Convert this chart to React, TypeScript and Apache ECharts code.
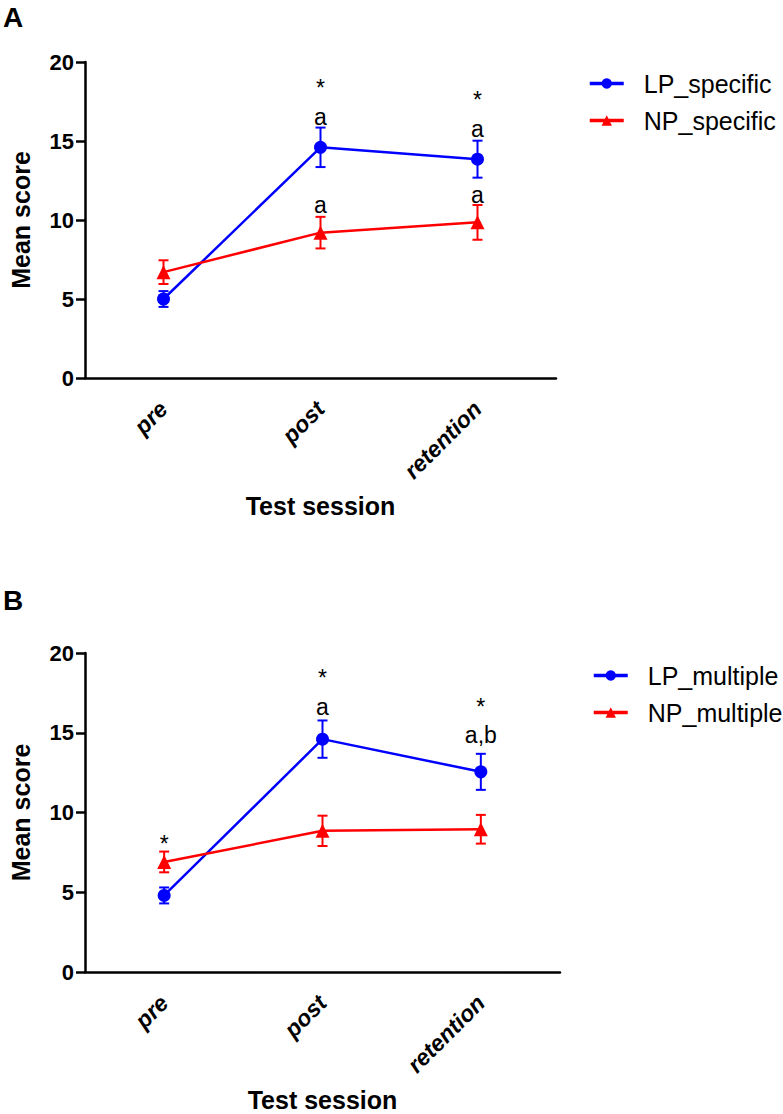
import React, { useEffect, useRef } from 'react';
import * as echarts from 'echarts';

const categories = ['pre', 'post', 'retention'];
const yTicks = { min: 0, max: 20, interval: 5 };

// Panel A
const lpSpecificMean = [5.0, 14.6, 13.85];
const lpSpecificErr = [0.5, 1.25, 1.17];
const npSpecificMean = [6.7, 9.2, 9.85];
const npSpecificErr = [0.75, 1.0, 1.1];
const annotA = [
  { cat: 1, y: 18.35, text: '*' },
  { cat: 1, y: 16.54, text: 'a' },
  { cat: 1, y: 10.95, text: 'a' },
  { cat: 2, y: 17.57, text: '*' },
  { cat: 2, y: 15.76, text: 'a' },
  { cat: 2, y: 11.58, text: 'a' },
];

// Panel B
const lpMultipleMean = [4.8, 14.6, 12.55];
const lpMultipleErr = [0.5, 1.17, 1.13];
const npMultipleMean = [6.9, 8.85, 8.95];
const npMultipleErr = [0.65, 0.95, 0.9];
const annotB = [
  { cat: 0, y: 8.0, text: '*' },
  { cat: 1, y: 18.45, text: '*' },
  { cat: 1, y: 16.61, text: 'a' },
  { cat: 2, y: 16.63, text: '*' },
  { cat: 2, y: 14.84, text: 'a,b' },
];

const FONT = 'Liberation Sans, Arial, sans-serif';
const BLUE = '#0000ff';
const RED = '#ff0000';

function errorSeries(name: string, means: number[], errs: number[], color: string, ai: number) {
  return {
    type: 'custom',
    name: name + '_err',
    xAxisIndex: ai,
    yAxisIndex: ai,
    z: 2,
    silent: true,
    encode: { x: 0, y: [1, 2] },
    data: means.map((m, i) => [i, m - errs[i], m + errs[i]]),
    renderItem: (params: any, api: any) => {
      const lo = api.coord([api.value(0), api.value(1)]);
      const hi = api.coord([api.value(0), api.value(2)]);
      const w = 5;
      const style = { stroke: color, lineWidth: 2 };
      return {
        type: 'group',
        children: [
          { type: 'line', shape: { x1: lo[0], y1: lo[1], x2: hi[0], y2: hi[1] }, style },
          { type: 'line', shape: { x1: lo[0] - w, y1: lo[1], x2: lo[0] + w, y2: lo[1] }, style },
          { type: 'line', shape: { x1: hi[0] - w, y1: hi[1], x2: hi[0] + w, y2: hi[1] }, style },
        ],
      };
    },
  };
}

function lineSeries(name: string, means: number[], color: string, symbol: string, ai: number) {
  return {
    type: 'line',
    name,
    xAxisIndex: ai,
    yAxisIndex: ai,
    z: 5,
    data: means,
    symbol,
    symbolSize: symbol === 'circle' ? 13 : 14,
    lineStyle: { color, width: 2.5 },
    itemStyle: { color },
  };
}

function annotSeries(list: { cat: number; y: number; text: string }[], ai: number) {
  return {
    type: 'scatter',
    name: 'annot' + ai,
    xAxisIndex: ai,
    yAxisIndex: ai,
    z: 6,
    silent: true,
    symbolSize: 1,
    itemStyle: { color: 'rgba(0,0,0,0)', opacity: 1 },
    data: list.map((a) => ({
      value: [a.cat, a.y],
      label: {
        show: true,
        position: 'inside',
        formatter: a.text,
        color: '#000',
        opacity: 1,
        fontSize: 23,
        fontFamily: FONT,
      },
    })),
  };
}

function xAxis(ai: number) {
  return {
    type: 'category',
    gridIndex: ai,
    data: categories,
    boundaryGap: true,
    axisLine: { lineStyle: { color: '#000', width: 2.5 } },
    axisTick: { alignWithLabel: true, length: 9, lineStyle: { color: '#000', width: 2.5 } },
    axisLabel: {
      rotate: 45,
      margin: 27,
      color: '#000',
      fontSize: 23,
      fontWeight: 'bold',
      fontStyle: 'italic',
      fontFamily: FONT,
    },
    name: 'Test session',
    nameLocation: 'middle',
    nameGap: 115,
    nameTextStyle: { color: '#000', fontSize: 25, fontWeight: 'bold', fontFamily: FONT },
  };
}

function yAxis(ai: number) {
  return {
    type: 'value',
    gridIndex: ai,
    min: yTicks.min,
    max: yTicks.max,
    interval: yTicks.interval,
    splitLine: { show: false },
    axisLine: { show: true, lineStyle: { color: '#000', width: 2.5 } },
    axisTick: { show: true, length: 9, lineStyle: { color: '#000', width: 2.5 } },
    axisLabel: { margin: 11, color: '#000', fontSize: 22, fontWeight: 'bold', fontFamily: FONT },
    name: 'Mean score',
    nameLocation: 'middle',
    nameGap: 52,
    nameTextStyle: { color: '#000', fontSize: 25, fontWeight: 'bold', fontFamily: FONT },
  };
}

function legend(names: string[], left: number, top: number) {
  return {
    data: names,
    orient: 'vertical',
    left,
    top,
    itemWidth: 34,
    itemHeight: 13,
    itemGap: 12,
    selectedMode: false,
    lineStyle: { width: 3.5 },
    textStyle: { color: '#000', fontSize: 25, fontFamily: FONT, padding: [0, 0, 0, 15] },
  };
}

export default function App() {
  const ref = useRef<HTMLDivElement>(null);
  useEffect(() => {
    if (!ref.current) return;
    const chart = echarts.init(ref.current, undefined, { renderer: 'svg' });
    chart.setOption({
      animation: false,
      backgroundColor: '#fff',
      textStyle: { fontFamily: FONT },
      graphic: [
        { type: 'text', left: 3, top: 3, style: { text: 'A', fontSize: 28, fontWeight: 'bold', fill: '#000', fontFamily: FONT } },
        { type: 'text', left: 3, top: 586, style: { text: 'B', fontSize: 28, fontWeight: 'bold', fill: '#000', fontFamily: FONT } },
      ],
      legend: [
        legend(['LP_specific', 'NP_specific'], 583, 66),
        legend(['LP_multiple', 'NP_multiple'], 587, 658),
      ],
      grid: [
        { left: 80, top: 62, width: 476, height: 316 },
        { left: 80, top: 653, width: 480, height: 319 },
      ],
      xAxis: [xAxis(0), xAxis(1)],
      yAxis: [yAxis(0), yAxis(1)],
      series: [
        errorSeries('LP_specific', lpSpecificMean, lpSpecificErr, BLUE, 0),
        errorSeries('NP_specific', npSpecificMean, npSpecificErr, RED, 0),
        lineSeries('LP_specific', lpSpecificMean, BLUE, 'circle', 0),
        lineSeries('NP_specific', npSpecificMean, RED, 'triangle', 0),
        annotSeries(annotA, 0),
        errorSeries('LP_multiple', lpMultipleMean, lpMultipleErr, BLUE, 1),
        errorSeries('NP_multiple', npMultipleMean, npMultipleErr, RED, 1),
        lineSeries('LP_multiple', lpMultipleMean, BLUE, 'circle', 1),
        lineSeries('NP_multiple', npMultipleMean, RED, 'triangle', 1),
        annotSeries(annotB, 1),
      ],
    });
    return () => chart.dispose();
  }, []);
  return (
    <div
      ref={ref}
      style={{ position: 'fixed', left: 0, top: 0, width: 783, height: 1114, background: '#fff' }}
    />
  );
}
